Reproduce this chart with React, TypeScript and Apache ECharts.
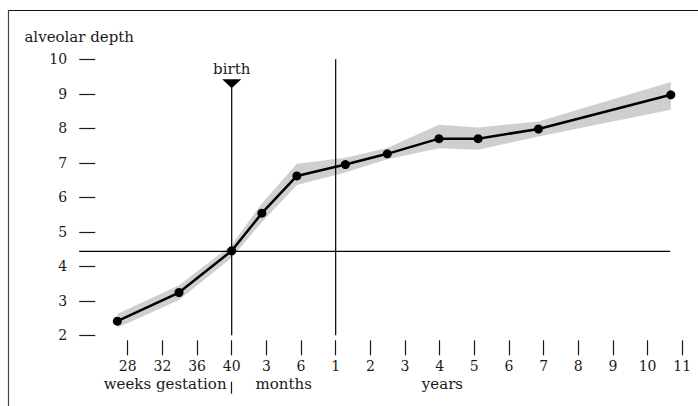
import React, { useEffect, useRef } from "react";
import * as echarts from "echarts";

// ---- data ----
const tickPositions = [0, 1, 2, 3, 4, 5, 6, 7, 8, 9, 10, 11, 12, 13, 14, 15, 16];
const tickLabels = ["28", "32", "36", "40", "3", "6", "1", "2", "3", "4", "5", "6", "7", "8", "9", "10", "11"];
const unitPositions = [1.08, 4.5, 9.08];
const unitLabels = ["weeks gestation", "months", "years"];
const unitDividers = [3];

const pointX = [-0.3, 1.48, 3, 3.87, 4.88, 6.28, 7.49, 8.98, 10.11, 11.85, 15.67];
const depthMean = [2.41, 3.24, 4.45, 5.54, 6.62, 6.95, 7.26, 7.7, 7.7, 7.98, 8.97];
const depthUpper = [2.62, 3.45, 4.62, 5.82, 6.97, 7.15, 7.43, 8.1, 8.02, 8.2, 9.34];
const depthLower = [2.22, 3.02, 4.25, 5.28, 6.36, 6.72, 7.1, 7.42, 7.38, 7.76, 8.54];

const birthX = 3;
const birthMarkerY = 9.29;
const birthLineTop = 9.18;
const oneYearX = 6;
const oneYearTop = 10;
const referenceDepth = 4.43;
const refLineStart = -1.4;
const refLineEnd = 15.65;

const FONT = "'DejaVu Serif', 'Liberation Serif', serif";
const TXT = "#1a1a1a";

export default function App() {
  const ref = useRef<HTMLDivElement>(null);
  useEffect(() => {
    if (!ref.current) return;
    const chart = echarts.init(ref.current, null, { renderer: "svg" });
    const lineStyle = { color: "#000", width: 1.2 };
    chart.setOption({
      animation: false,
      backgroundColor: "#fff",
      textStyle: { fontFamily: FONT },
      grid: { left: 79.2, top: 59.3, right: 8.8, bottom: 70.7, containLabel: false },
      xAxis: [
        {
          type: "value",
          min: -1.4,
          max: 16.2,
          position: "bottom",
          offset: 5,
          axisLine: { show: false, onZero: false },
          splitLine: { show: false },
          axisTick: { show: true, length: 15, customValues: tickPositions, lineStyle: { color: TXT, width: 1.2 } },
          axisLabel: {
            customValues: tickPositions,
            formatter: (v: number) => tickLabels[Math.round(v)] ?? "",
            margin: 19,
            fontSize: 14,
            fontFamily: FONT,
            color: TXT,
          },
        },
        {
          type: "value",
          min: -1.4,
          max: 16.2,
          position: "bottom",
          offset: 46.4,
          axisLine: { show: false, onZero: false },
          splitLine: { show: false },
          axisTick: { show: true, length: 12, customValues: unitDividers, lineStyle: { color: TXT, width: 1.2 } },
          axisLabel: {
            customValues: unitPositions,
            formatter: (v: number) => {
              const i = unitPositions.findIndex((p) => Math.abs(p - v) < 1e-6);
              return i >= 0 ? unitLabels[i] : "";
            },
            margin: -5,
            fontSize: 15,
            fontFamily: FONT,
            color: TXT,
          },
        },
      ],
      yAxis: {
        type: "value",
        min: 2,
        max: 10,
        interval: 1,
        axisLine: { show: false, onZero: false },
        splitLine: { show: false },
        axisTick: { show: true, inside: true, length: 16, lineStyle: { color: TXT, width: 1.2 } },
        axisLabel: { margin: 12, fontSize: 14, fontFamily: FONT, color: TXT },
        name: "alveolar depth",
        nameLocation: "end",
        nameGap: 15,
        nameTextStyle: { fontSize: 15, fontFamily: FONT, color: TXT },
      },
      series: [
        {
          type: "custom",
          silent: true,
          z: 1,
          data: [[0, 0]],
          renderItem: (params: any, api: any) => {
            if (params.dataIndex !== 0) return null;
            const up = pointX.map((x, i) => api.coord([x, depthUpper[i]]));
            const lo = pointX.map((x, i) => api.coord([x, depthLower[i]])).reverse();
            return { type: "polygon", shape: { points: [...up, ...lo] }, style: { fill: "#cfcfcf" } };
          },
        },
        {
          type: "line",
          silent: true,
          z: 2,
          symbol: "none",
          lineStyle,
          data: [[refLineStart, referenceDepth], [refLineEnd, referenceDepth]],
        },
        {
          type: "line",
          silent: true,
          z: 2,
          symbol: "none",
          lineStyle,
          data: [[birthX, 2], [birthX, birthLineTop]],
        },
        {
          type: "line",
          silent: true,
          z: 2,
          symbol: "none",
          lineStyle,
          data: [[oneYearX, 2], [oneYearX, oneYearTop]],
        },
        {
          type: "scatter",
          silent: true,
          z: 3,
          symbol: "triangle",
          symbolRotate: 180,
          symbolSize: [19, 9],
          itemStyle: { color: "#000", opacity: 1 },
          label: {
            show: true,
            position: "top",
            distance: 3,
            formatter: "birth",
            fontSize: 15,
            fontFamily: FONT,
            color: TXT,
            opacity: 1,
          },
          data: [[birthX, birthMarkerY]],
        },
        {
          type: "line",
          z: 4,
          symbol: "circle",
          symbolSize: 9,
          itemStyle: { color: "#000" },
          lineStyle: { color: "#000", width: 2.5 },
          data: pointX.map((x, i) => [x, depthMean[i]]),
        },
      ],
      graphic: [
        { type: "line", shape: { x1: 8, y1: 10.5, x2: 698, y2: 10.5 }, style: { stroke: "#111", lineWidth: 1.2 } },
        { type: "line", shape: { x1: 8.5, y1: 10, x2: 8.5, y2: 406 }, style: { stroke: "#444", lineWidth: 1.2 } },
      ],
    });
    return () => chart.dispose();
  }, []);
  return (
    <div
      ref={ref}
      style={{ position: "fixed", left: 0, top: 0, width: 698, height: 406, background: "#fff" }}
    />
  );
}
